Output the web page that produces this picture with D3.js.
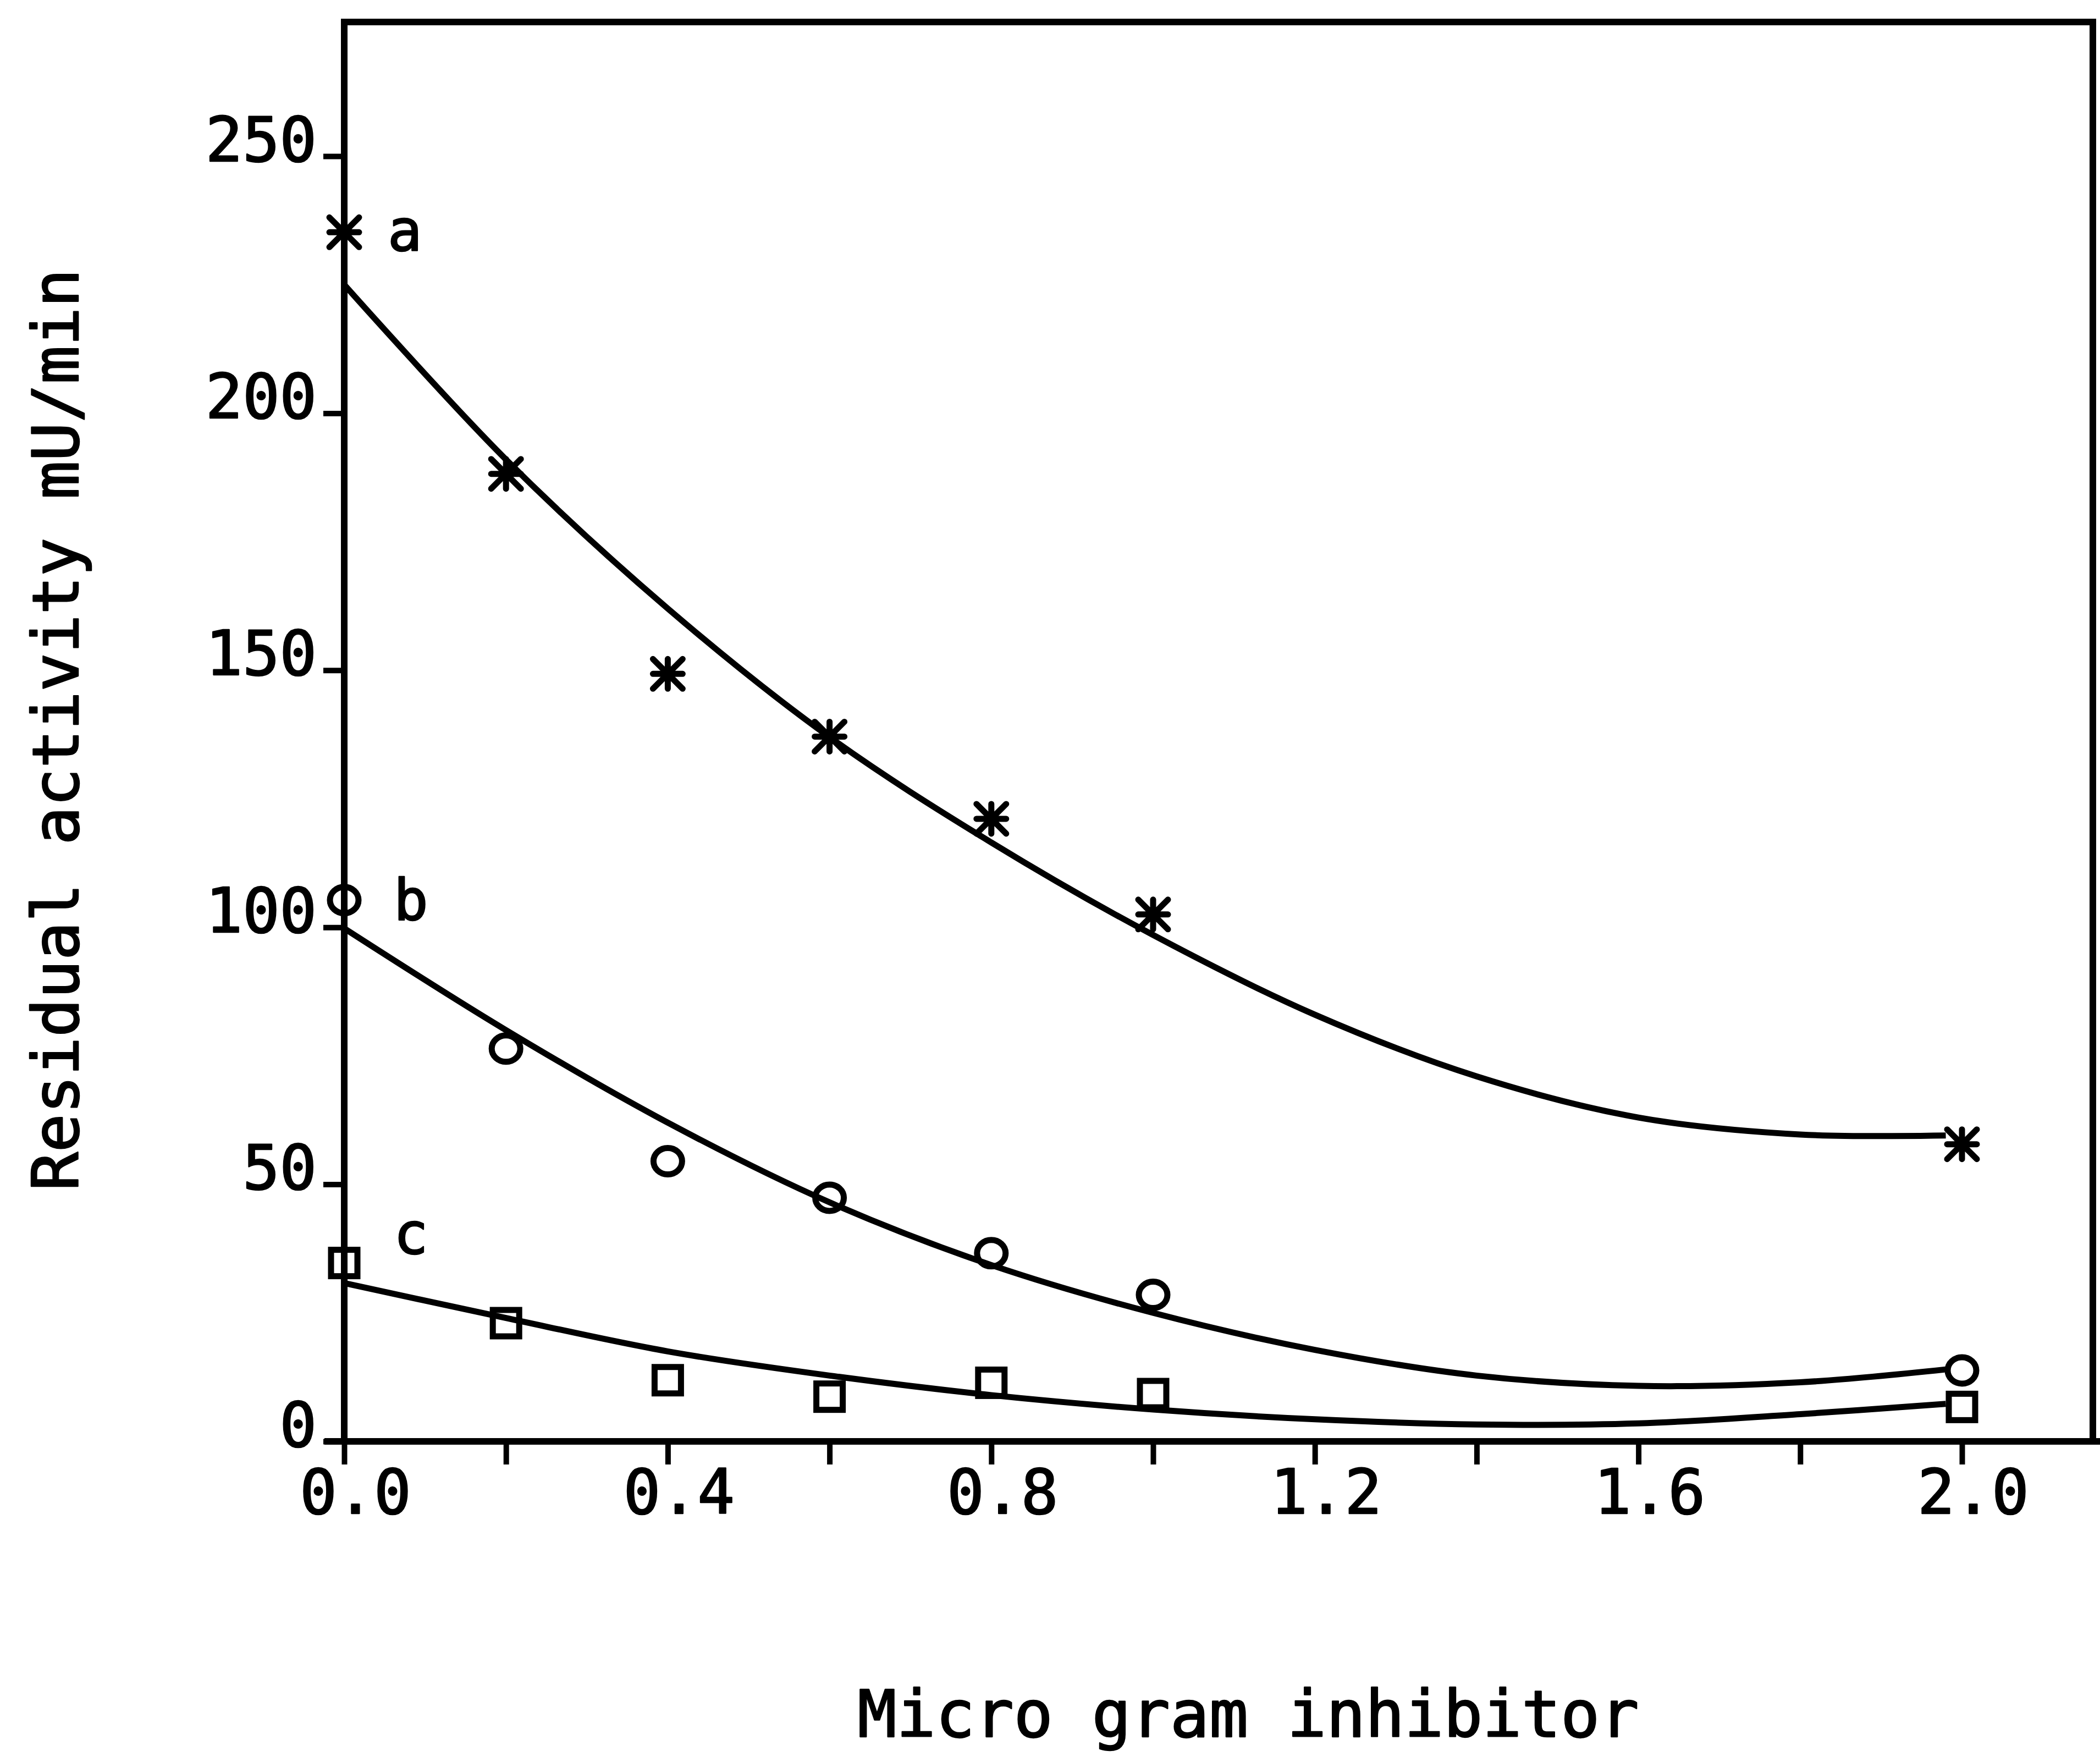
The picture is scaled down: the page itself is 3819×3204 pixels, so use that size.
<!DOCTYPE html>
<html><head><meta charset="utf-8">
<script src="https://cdn.jsdelivr.net/npm/d3@7"></script>
<style>html,body{margin:0;padding:0;background:#fff;} svg{display:block;}</style>
</head><body>
<script>
// ---- data ----
const doseX   = [0, 0.2, 0.4, 0.6, 0.8, 1.0, 2.0];
const seriesA = [235.2, 188.2, 149.3, 137.1, 121.1, 102.5, 57.8];   // asterisks
const seriesB = [105.3, 76.4, 54.5, 47.4, 36.6, 28.5, 13.8];        // circles
const seriesC = [34.7, 23.0, 11.9, 8.7, 11.4, 9.2, 6.7];            // squares
const fitX = [0, 0.2, 0.4, 0.6, 0.8, 1.0, 1.2, 1.4, 1.6, 1.8, 1.98];
const fitA = [225, 191, 162, 137, 116.5, 98.5, 83, 71, 63, 59.7, 59.5];
const fitB = [99.8, 80, 62, 46.5, 34.3, 25, 17.8, 12.8, 10.8, 11.5, 14];
const fitC = [30.8, 24, 17.5, 12.8, 9, 6.2, 4.3, 3.3, 3.5, 5.3, 7.3];
const seriesNames = ["a", "b", "c"];
const xTicks = [0, 0.2, 0.4, 0.6, 0.8, 1.0, 1.2, 1.4, 1.6, 1.8, 2.0];
const xLabelTicks = [0, 0.4, 0.8, 1.2, 1.6, 2.0];
const yTicks = [0, 50, 100, 150, 200, 250];
const xTitle = "Micro gram inhibitor";
const yTitle = "Residual activity mU/min";

// ---- layout ----
const W = 3819, H = 3204;
const X0 = 626, X2 = 3568, RIGHT = 3806;
const Y0 = 2621, Y250 = 284, TOP = 40;
const FONT = "'DejaVu Sans Mono', 'Liberation Mono', monospace";
const TEXT_STROKE = 2.5;

const svg = d3.select("body").append("svg")
  .attr("width", W).attr("height", H)
  .style("background", "#fff");

const x = d3.scaleLinear().domain([0, 2]).range([X0, X2]);
const y = d3.scaleLinear().domain([0, 250]).range([Y0, Y250]);

function styleText(sel, size) {
  sel.style("font-family", FONT).style("font-size", size + "px")
    .attr("fill", "#000").attr("stroke", "#000").attr("stroke-width", TEXT_STROKE)
    .attr("stroke-linejoin", "round");
}

// frame
const frame = svg.append("g").attr("stroke", "#000").attr("stroke-width", 12)
  .attr("stroke-linecap", "square").attr("fill", "none");
frame.append("line").attr("x1", X0).attr("y1", TOP).attr("x2", X0).attr("y2", Y0);
frame.append("line").attr("x1", X0).attr("y1", TOP).attr("x2", RIGHT).attr("y2", TOP);
frame.append("line").attr("x1", RIGHT).attr("y1", TOP).attr("x2", RIGHT).attr("y2", Y0);
frame.append("line").attr("x1", X0 - 30).attr("y1", Y0).attr("x2", W).attr("y2", Y0);

// y axis
const yAxis = svg.append("g").attr("transform", `translate(${X0},0)`)
  .call(d3.axisLeft(y).tickValues(yTicks).tickSize(38).tickPadding(12).tickFormat(d3.format("d")));
yAxis.select(".domain").remove();
yAxis.selectAll(".tick line").attr("stroke", "#000").attr("stroke-width", 10);
yAxis.selectAll(".tick text").attr("dy", 8).call(styleText, 112);

// x axis
const fmt = d3.format(".1f");
const isLabeled = d => xLabelTicks.some(v => Math.abs(v - d) < 1e-9);
const xAxis = svg.append("g").attr("transform", `translate(0,${Y0})`)
  .call(d3.axisBottom(x).tickValues(xTicks).tickSize(42).tickFormat(d => isLabeled(d) ? fmt(d) : ""));
xAxis.select(".domain").remove();
xAxis.selectAll(".tick line").attr("stroke", "#000").attr("stroke-width", 10);
xAxis.selectAll(".tick text").attr("y", 131).attr("dy", 0).attr("dx", 20).call(styleText, 112);

// fitted curves
const line = d3.line().x(d => x(d[0])).y(d => y(d[1])).curve(d3.curveCatmullRom.alpha(0.5));
[fitA, fitB, fitC].forEach(vals => {
  svg.append("path")
    .attr("d", line(fitX.map((xv, i) => [xv, vals[i]])))
    .attr("fill", "none").attr("stroke", "#000").attr("stroke-width", 11)
    .attr("stroke-linejoin", "round");
});

// markers
const mk = svg.append("g").attr("stroke", "#000").attr("stroke-width", 11).attr("fill", "none")
  .attr("stroke-linecap", "round");
const r = 27;
const starPath = `M0,${-r}L0,${r}M${-r},0L${r},0M${-r},${-r}L${r},${r}M${-r},${r}L${r},${-r}`;
mk.selectAll(".ast").data(doseX.map((xv, i) => [xv, seriesA[i]])).join("path")
  .attr("class", "ast")
  .attr("transform", d => `translate(${x(d[0])},${y(d[1])})`)
  .attr("d", starPath).attr("stroke-width", 11);
mk.selectAll(".astc").data(doseX.map((xv, i) => [xv, seriesA[i]])).join("circle")
  .attr("class", "astc")
  .attr("cx", d => x(d[0])).attr("cy", d => y(d[1])).attr("r", 9)
  .attr("fill", "#000").attr("stroke", "none");
mk.selectAll(".circ").data(doseX.map((xv, i) => [xv, seriesB[i]])).join("ellipse")
  .attr("class", "circ")
  .attr("cx", d => x(d[0])).attr("cy", d => y(d[1]))
  .attr("rx", 26).attr("ry", 24);
mk.selectAll(".sq").data(doseX.map((xv, i) => [xv, seriesC[i]])).join("rect")
  .attr("class", "sq")
  .attr("x", d => x(d[0]) - 24).attr("y", d => y(d[1]) - 24)
  .attr("width", 48).attr("height", 48);

// series letters
const firstVals = [seriesA[0], seriesB[0], seriesC[0]];
const letterOffsets = [[79, 34], [90, 36], [90, -17]];
svg.selectAll(".lab").data(seriesNames).join("text")
  .attr("class", "lab")
  .attr("x", (d, i) => x(0) + letterOffsets[i][0])
  .attr("y", (d, i) => y(firstVals[i]) + letterOffsets[i][1])
  .text(d => d)
  .call(styleText, 104);

// titles
svg.append("text").attr("x", 2270).attr("y", 3158).attr("text-anchor", "middle")
  .text(xTitle).call(styleText, 118);
svg.append("text").attr("transform", "translate(142,1327) rotate(-90)").attr("text-anchor", "middle")
  .text(yTitle).call(styleText, 116);
</script>
</body></html>
